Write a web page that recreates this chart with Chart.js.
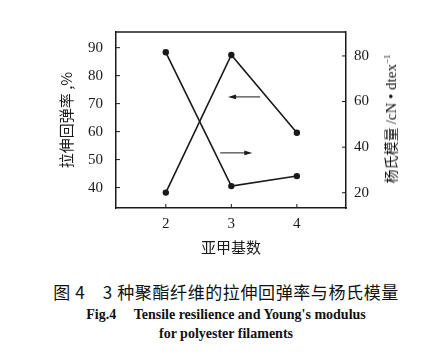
<!DOCTYPE html>
<html><head><meta charset="utf-8">
<script src="https://cdn.jsdelivr.net/npm/chart.js@4.4.0/dist/chart.umd.min.js"></script>
<style>
html,body{margin:0;padding:0;background:#fff;}
#wrap{position:relative;width:440px;height:355px;overflow:hidden;background:#fff;}
#cv{position:absolute;left:0;top:0;}
.cap{position:absolute;left:0;width:452px;text-align:center;color:#111;white-space:nowrap;}
#c1{top:279px;font:400 17px "Noto Sans CJK SC";letter-spacing:0.6px;}
#c2{top:307px;font:bold 14px "Liberation Serif";}
#c3{top:326px;font:bold 14px "Liberation Serif";}
#rt{position:absolute;left:390px;top:119px;transform:translate(-50%,-50%) rotate(-90deg);white-space:nowrap;font:14px "Noto Sans CJK SC";color:#111;}
#rt .l{font-family:"Liberation Serif";font-size:15px;}
</style></head>
<body><div id="wrap">
<canvas id="cv" width="440" height="265"></canvas>
<div id="rt">杨氏模量 <span class="l">/cN • dtex<sup style="font-size:9px">−1</sup></span></div>
<div class="cap" id="c1">图 4　3 种聚酯纤维的拉伸回弹率与杨氏模量</div>
<div class="cap" id="c2">Fig.4&nbsp;&nbsp;&nbsp;&nbsp;&nbsp;Tensile resilience and Young's modulus</div>
<div class="cap" id="c3">for polyester filaments</div>
</div>
<script>
const methyleneCounts = [2, 3, 4];
const resilience = [38.2, 87.4, 59.6];      // 拉伸回弹率, %  (left axis)
const youngModulus = [81.6, 22.9, 27.3];    // 杨氏模量 cN/dtex (right axis)
const xTicks = [2, 3, 4];
const leftTicks = [40, 50, 60, 70, 80, 90];
const rightTicks = [20, 40, 60, 80];
// arrows: [x start, x end, left-axis value]
const arrowLeft = [3.44, 2.95, 72.4];
const arrowRight = [2.83, 3.32, 52.4];

const ink = '#1a1a1a';
const serif = '"Liberation Serif", "Times New Roman", serif';

const decor = {
  id: 'decor',
  afterDraw(chart) {
    const ctx = chart.ctx, a = chart.chartArea;
    const sx = chart.scales.x, sl = chart.scales.yL, sr = chart.scales.yR;
    ctx.save();
    ctx.strokeStyle = ink; ctx.fillStyle = ink; ctx.lineWidth = 1.5;
    // top border
    ctx.beginPath(); ctx.moveTo(a.left, a.top); ctx.lineTo(a.right, a.top); ctx.stroke();
    ctx.lineWidth = 1;
    // inward ticks
    ctx.beginPath();
    sx.ticks.forEach(t => { const p = sx.getPixelForValue(t.value); ctx.moveTo(p, a.bottom); ctx.lineTo(p, a.bottom - 4); });
    sl.ticks.forEach(t => { const p = sl.getPixelForValue(t.value); ctx.moveTo(a.left, p); ctx.lineTo(a.left + 4, p); });
    sr.ticks.forEach(t => { const p = sr.getPixelForValue(t.value); ctx.moveTo(a.right, p); ctx.lineTo(a.right - 4, p); });
    ctx.stroke();
    // arrows
    function arrow(arr) {
      const x1 = sx.getPixelForValue(arr[0]), x2 = sx.getPixelForValue(arr[1]), y = sl.getPixelForValue(arr[2]);
      const dir = Math.sign(x2 - x1);
      ctx.lineWidth = 1;
      ctx.beginPath(); ctx.moveTo(x1, y); ctx.lineTo(x2 - dir * 5, y); ctx.stroke();
      ctx.beginPath(); ctx.moveTo(x2, y); ctx.lineTo(x2 - dir * 8, y - 2.3); ctx.lineTo(x2 - dir * 8, y + 2.3); ctx.closePath(); ctx.fill();
    }
    arrow(arrowLeft); arrow(arrowRight);
    ctx.restore();
  }
};

function setTicks(vals) { return function(scale) { scale.ticks = vals.map(v => ({ value: v })); }; }

new Chart(document.getElementById('cv'), {
  type: 'line',
  data: {
    datasets: [
      { label: '拉伸回弹率', yAxisID: 'yL',
        data: methyleneCounts.map((x, i) => ({ x: x, y: resilience[i] })),
        borderColor: ink, backgroundColor: ink, borderWidth: 1.6, pointRadius: 3.2, pointBackgroundColor: ink, pointBorderWidth: 0, tension: 0 },
      { label: '杨氏模量', yAxisID: 'yR',
        data: methyleneCounts.map((x, i) => ({ x: x, y: youngModulus[i] })),
        borderColor: ink, backgroundColor: ink, borderWidth: 1.6, pointRadius: 3.2, pointBackgroundColor: ink, pointBorderWidth: 0, tension: 0 }
    ]
  },
  options: {
    responsive: false, animation: false, devicePixelRatio: 1,
    layout: { padding: { top: 32, left: 0, right: 0, bottom: 0 } },
    plugins: { legend: { display: false }, tooltip: { enabled: false } },
    scales: {
      x: { type: 'linear', position: 'bottom', min: 1.24, max: 4.75,
        afterBuildTicks: setTicks(xTicks),
        afterFit(s) { s.height = 57; },
        grid: { display: false, drawTicks: false },
        border: { display: true, color: ink, width: 1.5 },
        ticks: { padding: 7, color: ink, font: { family: serif, size: 15 } },
        title: { display: true, text: '亚甲基数', color: ink, font: { family: '"Noto Sans CJK SC"', size: 15 }, padding: { top: 0, bottom: 9 } } },
      yL: { type: 'linear', position: 'left', min: 32.7, max: 95.6,
        afterBuildTicks: setTicks(leftTicks),
        afterFit(s) { s.width = 116; },
        grid: { display: false, drawTicks: false },
        border: { display: true, color: ink, width: 1.5 },
        ticks: { padding: 13, color: ink, font: { family: serif, size: 15 } },
        title: { display: true, text: '拉伸回弹率 ,%', color: ink, font: { family: '"Noto Sans CJK SC"', size: 15 }, padding: { top: 57, bottom: 0 } } },
      yR: { type: 'linear', position: 'right', min: 13.3, max: 90.5,
        afterBuildTicks: setTicks(rightTicks),
        afterFit(s) { s.width = 94; },
        grid: { display: false, drawTicks: false },
        border: { display: true, color: ink, width: 1.5 },
        ticks: { padding: 8, color: ink, font: { family: serif, size: 15 } } }
    }
  },
  plugins: [decor]
});
</script>
</body></html>
